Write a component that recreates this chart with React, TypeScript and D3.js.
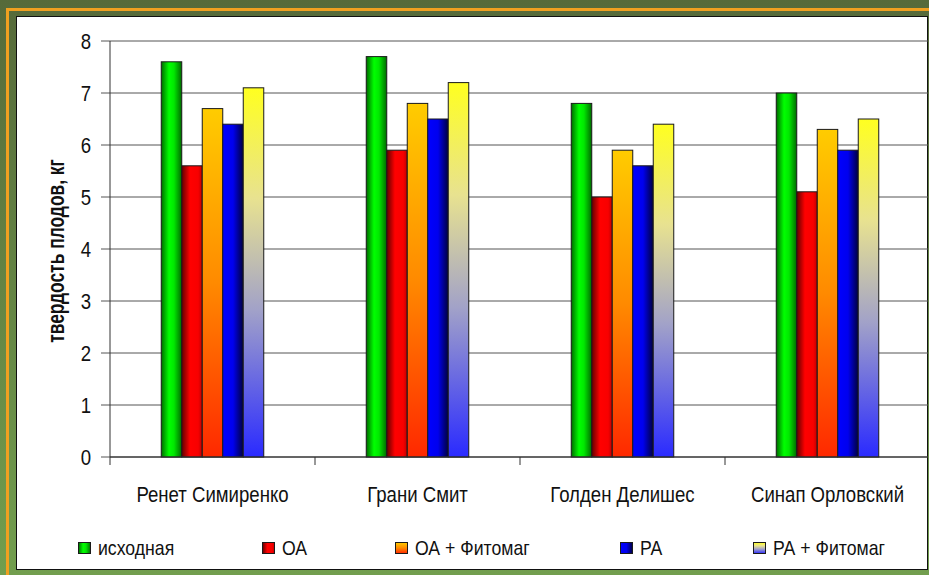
import React from "react";
import * as d3 from "d3";

const categories = ["Ренет Симиренко", "Грани Смит", "Голден Делишес", "Синап Орловский"];
const seriesNames = ["исходная", "ОА", "ОА + Фитомаг", "РА", "РА + Фитомаг"];
const vIshodnaya = [7.6, 7.7, 6.8, 7.0];
const vOA = [5.6, 5.9, 5.0, 5.1];
const vOAFito = [6.7, 6.8, 5.9, 6.3];
const vRA = [6.4, 6.5, 5.6, 5.9];
const vRAFito = [7.1, 7.2, 6.4, 6.5];
const seriesValues = [vIshodnaya, vOA, vOAFito, vRA, vRAFito];
const yTicks = [0, 1, 2, 3, 4, 5, 6, 7, 8];
const yTitle = "твердость плодов, кг";

const W = 929, H = 575;
const left = 110, right = 930, top = 41, bottom = 457;
const FONT = "'Liberation Sans', Arial, sans-serif";
const SX = 0.93;
const SY = 1.1;

const gradIds = ["gGreen", "gRed", "gOrange", "gBlue", "gYellow"];
const legendSq = [78, 262, 395, 620, 753];

export default function App() {
  const x = d3.scaleBand<string>().domain(categories).range([left, right]).padding(0);
  const bw = x.bandwidth();
  const xs = d3
    .scaleBand<number>()
    .domain(d3.range(seriesNames.length))
    .range([bw * 0.25, bw * 0.75])
    .padding(0);
  const y = d3.scaleLinear().domain([0, 8]).range([bottom, top]);

  return (
    <svg
      width={W}
      height={H}
      style={{ position: "absolute", left: 0, top: 0, display: "block" }}
      fontFamily={FONT}
    >
      <defs>
        <linearGradient id="bg" x1="0" y1="0" x2="0" y2="1">
          <stop offset="0" stopColor="#566a3a" />
          <stop offset="1" stopColor="#729e4e" />
        </linearGradient>
        <linearGradient id="gGreen" x1="0" y1="0" x2="1" y2="0">
          <stop offset="0" stopColor="#006a00" />
          <stop offset="0.38" stopColor="#00ff00" />
          <stop offset="0.62" stopColor="#00e800" />
          <stop offset="1" stopColor="#006a00" />
        </linearGradient>
        <linearGradient id="gRed" x1="0" y1="0" x2="1" y2="0">
          <stop offset="0" stopColor="#600000" />
          <stop offset="0.4" stopColor="#ff0000" />
          <stop offset="0.8" stopColor="#f80000" />
          <stop offset="1" stopColor="#c00000" />
        </linearGradient>
        <linearGradient id="gOrange" x1="0" y1="0" x2="0" y2="1">
          <stop offset="0" stopColor="#ffcc00" />
          <stop offset="0.5" stopColor="#ff8a00" />
          <stop offset="1" stopColor="#ff2800" />
        </linearGradient>
        <linearGradient id="gBlue" x1="0" y1="0" x2="1" y2="0">
          <stop offset="0" stopColor="#0000ff" />
          <stop offset="0.5" stopColor="#0000ee" />
          <stop offset="1" stopColor="#000040" />
        </linearGradient>
        <linearGradient id="gYellow" x1="0" y1="0" x2="0" y2="1">
          <stop offset="0" stopColor="#ffff20" />
          <stop offset="0.3" stopColor="#e8e290" />
          <stop offset="0.6" stopColor="#a2a2c8" />
          <stop offset="1" stopColor="#2a2aff" />
        </linearGradient>
      </defs>

      <rect x={0} y={0} width={W} height={H} fill="url(#bg)" />
      <rect x={7.5} y={9.5} width={W + 20} height={H + 20} fill="none" stroke="#f0a020" strokeWidth={3} />
      <rect x={16.5} y={16.5} width={911} height={553} fill="#ffffff" stroke="#111" strokeWidth={1} />

      {/* gridlines */}
      {yTicks.map((t) => (
        <line key={"g" + t} x1={left} x2={928} y1={y(t)} y2={y(t)} stroke={t === 0 ? "#333" : "#555"} strokeWidth={1} />
      ))}
      {/* y ticks */}
      {yTicks.map((t) => (
        <line key={"t" + t} x1={101} x2={left} y1={y(t)} y2={y(t)} stroke="#555" />
      ))}
      {yTicks.map((t) => (
        <text
          key={"l" + t}
          transform={`translate(${91},${y(t) + 7.5}) scale(${SX},${SY})`}
          textAnchor="end"
          fontSize={20}
          fill="#111"
        >
          {t}
        </text>
      ))}
      <line x1={left} x2={left} y1={top} y2={bottom} stroke="#333" />

      {/* bars */}
      {categories.map((c, ci) => (
        <g key={c}>
          {seriesValues.map((vals, si) => (
            <rect
              key={si}
              x={(x(c) as number) + (xs(si) as number)}
              y={y(vals[ci])}
              width={xs.bandwidth()}
              height={bottom - y(vals[ci])}
              fill={`url(#${gradIds[si]})`}
              stroke="#1a1a1a"
              strokeWidth={1}
            />
          ))}
        </g>
      ))}

      {/* x axis */}
      <line x1={left} x2={928} y1={bottom} y2={bottom} stroke="#333" />
      {categories.map((c) => (
        <line key={"xt" + c} x1={x(c)} x2={x(c)} y1={bottom} y2={bottom + 8} stroke="#333" />
      ))}
      {categories.map((c) => (
        <text
          key={"xl" + c}
          transform={`translate(${(x(c) as number) + bw / 2},${502}) scale(${SX},${SY})`}
          textAnchor="middle"
          fontSize={20}
          fill="#111"
        >
          {c}
        </text>
      ))}

      {/* y title */}
      <text
        transform={`translate(${64},${251}) rotate(-90) scale(0.87,1.15)`}
        textAnchor="middle"
        fontSize={20}
        fontWeight="bold"
        fill="#111"
      >
        {yTitle}
      </text>

      {/* legend */}
      {seriesNames.map((s, i) => (
        <g key={s}>
          <rect
            x={legendSq[i] + 0.5}
            y={542.5}
            width={12}
            height={11}
            fill={`url(#${gradIds[i]})`}
            stroke="#1a1a1a"
          />
          <text
            transform={`translate(${legendSq[i] + 20},${555}) scale(${SX},${SY})`}
            fontSize={19}
            fill="#111"
          >
            {s}
          </text>
        </g>
      ))}
    </svg>
  );
}
